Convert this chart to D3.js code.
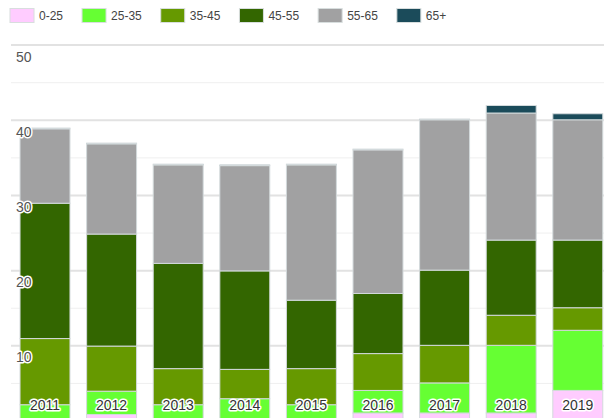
<!DOCTYPE html>
<html>
<head>
<meta charset="utf-8">
<script src="https://cdn.jsdelivr.net/npm/d3@7"></script>
<style>
  body { margin: 0; background: #fff; }
  svg { display: block; font-family: "Liberation Sans", Arial, sans-serif; }
  .halo { paint-order: stroke; stroke: #fff; stroke-width: 3px; stroke-linejoin: round; }
</style>
</head>
<body>
<svg id="chart" width="604" height="418"></svg>
<script>
// age groups per year
var years = ["2011", "2012", "2013", "2014", "2015", "2016", "2017", "2018", "2019"];
var groups = ["0-25", "25-35", "35-45", "45-55", "55-65", "65+"];
var colors = ["#ffccff", "#66ff33", "#669900", "#336600", "#a1a1a2", "#1b4b5a"];

var age0_25  = [0, 0.8, 0, 0, 0, 1.0, 1.0, 1.0, 4.0];
var age25_35 = [2.1, 3.1, 2.1, 2.9, 2.1, 3.0, 4.0, 9.0, 8.0];
var age35_45 = [8.8, 6.0, 4.8, 3.9, 4.8, 4.9, 5.0, 4.0, 3.0];
var age45_55 = [18.0, 14.9, 14.0, 13.1, 9.1, 8.0, 10.0, 10.0, 9.0];
var age55_65 = [9.9, 12.0, 13.1, 14.0, 18.0, 19.1, 20.0, 16.9, 16.0];
var age65    = [0.1, 0.1, 0.1, 0.1, 0.1, 0.1, 0.1, 1.0, 0.8];

var yTicks = [0, 5, 10, 15, 20, 25, 30, 35, 40, 45, 50];

var series = [age0_25, age25_35, age35_45, age45_55, age55_65, age65];

var rows = years.map(function (y, i) {
    var r = { year: y };
    groups.forEach(function (g, j) { r[g] = series[j][i]; });
    return r;
});

var svg = d3.select("#chart");

var x = d3.scaleBand()
    .domain(years)
    .range([11.7, 611.1])
    .paddingInner(0.25)
    .paddingOuter(0.125);

var y = d3.scaleLinear()
    .domain([0, 50])
    .range([420.5, 44.6]);

var color = d3.scaleOrdinal(groups, colors);

// grid
var grid = svg.append("g")
    .attr("transform", "translate(11,0)")
    .call(d3.axisRight(y).tickValues(yTicks).tickSize(593).tickFormat(""));
grid.select(".domain").remove();
grid.selectAll(".tick line")
    .attr("stroke", function (d) { return d % 10 == 0 ? "#e2e2e2" : "#efefef"; })
    .attr("stroke-width", function (d) { return d % 10 == 0 ? 2 : 1; });

// bars
var stack = d3.stack().keys(groups);
var layers = stack(rows);

svg.append("g")
    .selectAll("g")
    .data(layers)
    .join("g")
    .attr("fill", function (d) { return color(d.key); })
    .selectAll("rect")
    .data(function (d) { return d.filter(function (p) { return p[1] - p[0] > 0; }); })
    .join("rect")
    .attr("x", function (d) { return x(d.data.year); })
    .attr("width", x.bandwidth())
    .attr("y", function (d) { return y(d[1]); })
    .attr("height", function (d) { return y(d[0]) - y(d[1]); })
    .attr("stroke", "#d3dadc")
    .attr("stroke-width", 1);

// y labels
svg.append("g")
    .selectAll("text")
    .data(yTicks.filter(function (t) { return t > 0 && t % 10 == 0; }))
    .join("text")
    .attr("class", "halo")
    .attr("x", 16)
    .attr("y", function (d) { return y(d) + 17; })
    .attr("font-size", 14)
    .attr("fill", "#555")
    .text(function (d) { return d; });

// year labels
svg.append("g")
    .selectAll("text")
    .data(years)
    .join("text")
    .attr("class", "halo")
    .attr("x", function (d) { return x(d) + x.bandwidth() / 2; })
    .attr("y", 410)
    .attr("text-anchor", "middle")
    .attr("font-size", 14)
    .attr("fill", "#333")
    .text(function (d) { return d; });

// legend
var legend = svg.append("g");
var lx = 10;
groups.forEach(function (g) {
    legend.append("rect")
        .attr("x", lx).attr("y", 8.5)
        .attr("width", 24).attr("height", 14)
        .attr("fill", color(g))
        .attr("stroke", "#d8dede")
        .attr("stroke-width", 1);
    var t = legend.append("text")
        .attr("x", lx + 29).attr("y", 20)
        .attr("font-size", 12)
        .attr("fill", "#444")
        .text(g);
    lx = lx + 29 + t.node().getComputedTextLength() + 19;
});
</script>
</body>
</html>
